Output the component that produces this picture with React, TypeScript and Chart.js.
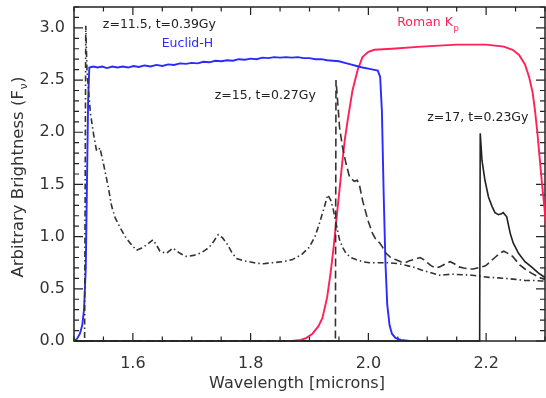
import React, { useEffect, useRef } from "react";
import { Chart, registerables } from "chart.js";

Chart.register(...registerables);

// ---------- data ----------
const euclidWave = [1.5, 1.505, 1.51, 1.514, 1.517, 1.52, 1.522, 1.524, 1.526, 1.533, 1.54, 1.548, 1.556, 1.565, 1.574, 1.583, 1.592, 1.601, 1.61, 1.62, 1.63, 1.64, 1.65, 1.66, 1.67, 1.68, 1.69, 1.7, 1.71, 1.72, 1.73, 1.74, 1.75, 1.76, 1.77, 1.78, 1.79, 1.8, 1.81, 1.82, 1.83, 1.84, 1.85, 1.86, 1.87, 1.88, 1.89, 1.9, 1.91, 1.92, 1.93, 1.94, 1.95, 1.96, 1.97, 1.98, 1.99, 2.0, 2.008, 2.016, 2.02, 2.023, 2.026, 2.029, 2.032, 2.036, 2.04, 2.046, 2.055, 2.07];
const euclidFlux = [0.0, 0.02, 0.07, 0.15, 0.3, 0.7, 1.5, 2.3, 2.62, 2.63, 2.62, 2.63, 2.615, 2.63, 2.62, 2.63, 2.62, 2.635, 2.625, 2.64, 2.63, 2.645, 2.635, 2.65, 2.645, 2.66, 2.655, 2.665, 2.66, 2.675, 2.67, 2.685, 2.68, 2.69, 2.685, 2.7, 2.695, 2.705, 2.7, 2.715, 2.71, 2.72, 2.715, 2.72, 2.715, 2.72, 2.71, 2.71, 2.7, 2.7, 2.69, 2.685, 2.68, 2.665, 2.65, 2.635, 2.62, 2.61, 2.6, 2.59, 2.53, 2.2, 1.4, 0.75, 0.35, 0.15, 0.07, 0.03, 0.01, 0.0];

const romanWave = [1.87, 1.885, 1.895, 1.905, 1.915, 1.922, 1.93, 1.936, 1.941, 1.946, 1.951, 1.956, 1.96, 1.965, 1.973, 1.982, 1.99, 2.0, 2.01, 2.04, 2.09, 2.15, 2.2, 2.23, 2.245, 2.256, 2.266, 2.273, 2.279, 2.283, 2.287, 2.291, 2.295, 2.299, 2.304, 2.31];
const romanFlux = [0.0, 0.01, 0.03, 0.07, 0.14, 0.22, 0.42, 0.66, 0.9, 1.18, 1.45, 1.73, 1.93, 2.12, 2.4, 2.6, 2.72, 2.77, 2.79, 2.8, 2.82, 2.84, 2.84, 2.82, 2.79, 2.74, 2.65, 2.53, 2.38, 2.21, 2.0, 1.75, 1.5, 1.28, 0.95, 0.55];

const z115Wave = [1.5, 1.518, 1.52, 1.522, 1.525, 1.528, 1.533, 1.538, 1.541, 1.544, 1.55, 1.558, 1.564, 1.57, 1.578, 1.587, 1.595, 1.606, 1.615, 1.623, 1.634, 1.64, 1.646, 1.657, 1.668, 1.68, 1.691, 1.703, 1.714, 1.723, 1.73, 1.738, 1.745, 1.752, 1.759, 1.768, 1.776, 1.787, 1.798, 1.81, 1.821, 1.837, 1.855, 1.871, 1.887, 1.9, 1.91, 1.917, 1.925, 1.931, 1.936, 1.94, 1.945, 1.951, 1.956, 1.962, 1.97, 1.979, 1.99, 2.002, 2.02, 2.034, 2.052, 2.075, 2.09, 2.103, 2.12, 2.131, 2.142, 2.16, 2.176, 2.19, 2.205, 2.22, 2.233, 2.25, 2.266, 2.28, 2.294, 2.3];
const z115Flux = [0.0, 0.0, 3.02, 2.6, 2.38, 2.18, 1.99, 1.83, 1.82, 1.85, 1.7, 1.48, 1.29, 1.18, 1.09, 1.0, 0.94, 0.87, 0.89, 0.92, 0.97, 0.92, 0.86, 0.84, 0.89, 0.84, 0.81, 0.82, 0.84, 0.87, 0.9, 0.96, 1.02, 0.99, 0.94, 0.85, 0.79, 0.77, 0.76, 0.745, 0.74, 0.75, 0.76, 0.78, 0.83, 0.9, 1.01, 1.13, 1.28, 1.4, 1.35, 1.27, 1.13, 0.97, 0.9, 0.84, 0.8, 0.78, 0.76, 0.75, 0.75, 0.75, 0.74, 0.71, 0.68, 0.66, 0.63, 0.635, 0.64, 0.635, 0.63, 0.62, 0.61, 0.605, 0.6, 0.59, 0.58, 0.58, 0.575, 0.575];

const z15Wave = [1.5, 1.944, 1.945, 1.948, 1.951, 1.956, 1.962, 1.968, 1.976, 1.981, 1.985, 1.99, 1.999, 2.007, 2.013, 2.019, 2.024, 2.03, 2.038, 2.046, 2.055, 2.063, 2.07, 2.077, 2.088, 2.094, 2.1, 2.107, 2.114, 2.121, 2.128, 2.139, 2.146, 2.154, 2.162, 2.171, 2.178, 2.185, 2.192, 2.199, 2.207, 2.215, 2.223, 2.23, 2.237, 2.245, 2.251, 2.257, 2.266, 2.277, 2.287, 2.294, 2.3];
const z15Flux = [0.0, 0.0, 2.5, 2.28, 2.05, 1.86, 1.7, 1.57, 1.53, 1.54, 1.49, 1.35, 1.16, 1.03, 0.97, 0.94, 0.9, 0.84, 0.8, 0.78, 0.76, 0.75, 0.77, 0.78, 0.8, 0.78, 0.75, 0.72, 0.7, 0.71, 0.73, 0.76, 0.74, 0.71, 0.7, 0.69, 0.69, 0.7, 0.71, 0.72, 0.76, 0.8, 0.84, 0.86, 0.84, 0.81, 0.77, 0.73, 0.69, 0.65, 0.62, 0.6, 0.59];

const z17Wave = [1.5, 2.189, 2.19, 2.193, 2.198, 2.204, 2.21, 2.215, 2.221, 2.226, 2.229, 2.235, 2.241, 2.246, 2.255, 2.266, 2.277, 2.289, 2.297, 2.3];
const z17Flux = [0.0, 0.0, 1.99, 1.73, 1.54, 1.38, 1.29, 1.23, 1.21, 1.22, 1.23, 1.19, 1.03, 0.94, 0.84, 0.76, 0.71, 0.65, 0.62, 0.61];

const xTickValues = [1.6, 1.8, 2.0, 2.2];
const yTickValues = [0, 0.5, 1.0, 1.5, 2.0, 2.5, 3.0];

const labelTexts = ["z=11.5, t=0.39Gy", "Euclid-H", "z=15, t=0.27Gy", "Roman K", "z=17, t=0.23Gy"];
const labelX = [1.549, 1.649, 1.739, 2.049, 2.1];
const labelY = [3.03, 2.85, 2.35, 3.05, 2.14];
const labelSub = ["", "", "", "p", ""];

const BLUE = "#2b2bff";
const RED = "#ff2158";
const INK = "#222222";
const FONT = "'DejaVu Sans', sans-serif";

const zip = (xs: number[], ys: number[]) => xs.map((x, i) => ({ x, y: ys[i] }));

const decorPlugin = {
  id: "decor",
  beforeDatasetsDraw(chart: any) {
    const { ctx, chartArea: a, scales } = chart;
    const xs = scales.x;
    const ys = scales.y;
    ctx.save();
    ctx.strokeStyle = INK;
    ctx.lineWidth = 1.5;
    ctx.strokeRect(a.left, a.top, a.right - a.left, a.bottom - a.top);
    ctx.lineWidth = 1.2;
    ctx.beginPath();
    for (let i = 0; i <= 16; i++) {
      const v = 1.5 + i * 0.05;
      const q = v / 0.2;
      const major = Math.abs(q - Math.round(q)) < 1e-6;
      const len = major ? 8 : 4.5;
      const px = xs.getPixelForValue(v);
      ctx.moveTo(px, a.bottom);
      ctx.lineTo(px, a.bottom - len);
      ctx.moveTo(px, a.top);
      ctx.lineTo(px, a.top + len);
    }
    for (let i = 0; i <= 32; i++) {
      const v = i * 0.1;
      const major = i % 5 === 0;
      const len = major ? 9 : 5;
      const py = ys.getPixelForValue(v);
      ctx.moveTo(a.left, py);
      ctx.lineTo(a.left + len, py);
      ctx.moveTo(a.right, py);
      ctx.lineTo(a.right - len, py);
    }
    ctx.stroke();
    ctx.restore();
  },
  afterDraw(chart: any) {
    const { ctx, scales } = chart;
    const xs = scales.x;
    const ys = scales.y;
    ctx.save();
    ctx.textBaseline = "middle";
    ctx.textAlign = "left";
    labelTexts.forEach((t, i) => {
      const color = i === 1 ? BLUE : i === 3 ? RED : INK;
      ctx.fillStyle = color;
      ctx.font = `12.5px ${FONT}`;
      const px = xs.getPixelForValue(labelX[i]);
      const py = ys.getPixelForValue(labelY[i]);
      ctx.fillText(t, px, py);
      if (labelSub[i]) {
        const w = ctx.measureText(t).width;
        ctx.font = `8.5px ${FONT}`;
        ctx.fillText(labelSub[i], px + w + 0.5, py + 6);
      }
    });
    ctx.fillStyle = "#333";
    ctx.font = `16px ${FONT}`;
    ctx.textAlign = "center";
    ctx.fillText("Wavelength [microns]", 297, 384);
    ctx.translate(19, 177);
    ctx.rotate(-Math.PI / 2);
    ctx.textAlign = "left";
    const main = "Arbitrary Brightness (F";
    ctx.font = `16.5px ${FONT}`;
    const w1 = ctx.measureText(main).width;
    ctx.font = `11px ${FONT}`;
    const w2 = ctx.measureText("\u03bd").width;
    ctx.font = `16.5px ${FONT}`;
    const w3 = ctx.measureText(")").width;
    const total = w1 + w2 + w3 + 1;
    const x0 = -total / 2;
    ctx.fillText(main, x0, 0);
    ctx.font = `11px ${FONT}`;
    ctx.fillText("\u03bd", x0 + w1 + 0.5, 5);
    ctx.font = `16.5px ${FONT}`;
    ctx.fillText(")", x0 + w1 + w2 + 1, 0);
    ctx.restore();
  },
};

export default function App() {
  const ref = useRef<HTMLCanvasElement | null>(null);
  useEffect(() => {
    if (!ref.current) return;
    const chart = new Chart(ref.current, {
      type: "line",
      data: {
        datasets: [
          { label: "z=17", data: zip(z17Wave, z17Flux), borderColor: INK, borderWidth: 1.6 },
          { label: "z=15", data: zip(z15Wave, z15Flux), borderColor: "#333", borderWidth: 1.6, borderDash: [8, 4] },
          { label: "z=11.5", data: zip(z115Wave, z115Flux), borderColor: "#333", borderWidth: 1.6, borderDash: [6, 3, 1.5, 3] },
          { label: "Euclid-H", data: zip(euclidWave, euclidFlux), borderColor: BLUE, borderWidth: 1.9 },
          { label: "Roman Kp", data: zip(romanWave, romanFlux), borderColor: RED, borderWidth: 1.9 },
        ].map((d) => ({ ...d, pointRadius: 0, tension: 0, fill: false, clip: false } as any)),
      },
      options: {
        animation: false,
        responsive: false,
        events: [],
        layout: { padding: { top: 7, right: 1, left: 0, bottom: 0 } },
        plugins: { legend: { display: false }, tooltip: { enabled: false }, title: { display: false } },
        scales: {
          x: {
            type: "linear",
            min: 1.5,
            max: 2.3,
            grid: { display: false, drawTicks: false },
            border: { display: false },
            afterBuildTicks: (s: any) => {
              s.ticks = xTickValues.map((v) => ({ value: v }));
            },
            afterFit: (s: any) => {
              s.height = 57;
              s.paddingLeft = 0;
              s.paddingRight = 0;
              s.paddingTop = 0;
              s.paddingBottom = 0;
            },
            ticks: {
              padding: 13,
              color: "#333",
              font: { family: FONT, size: 16 },
              callback: (v: any) => Number(v).toFixed(1),
              maxRotation: 0,
              autoSkip: false,
            },
          },
          y: {
            type: "linear",
            min: 0,
            max: 3.2,
            grid: { display: false, drawTicks: false },
            border: { display: false },
            afterBuildTicks: (s: any) => {
              s.ticks = yTickValues.map((v) => ({ value: v }));
            },
            afterFit: (s: any) => {
              s.width = 74;
              s.paddingLeft = 0;
              s.paddingRight = 0;
              s.paddingTop = 0;
              s.paddingBottom = 0;
            },
            ticks: {
              padding: 9,
              color: "#333",
              font: { family: FONT, size: 16 },
              callback: (v: any) => Number(v).toFixed(1),
              autoSkip: false,
            },
          },
        },
      } as any,
      plugins: [decorPlugin],
    });
    return () => chart.destroy();
  }, []);
  return (
    <div style={{ position: "fixed", left: 0, top: 0, width: 546, height: 398, background: "#fff" }}>
      <canvas ref={ref} width={546} height={398} style={{ display: "block" }} />
    </div>
  );
}
